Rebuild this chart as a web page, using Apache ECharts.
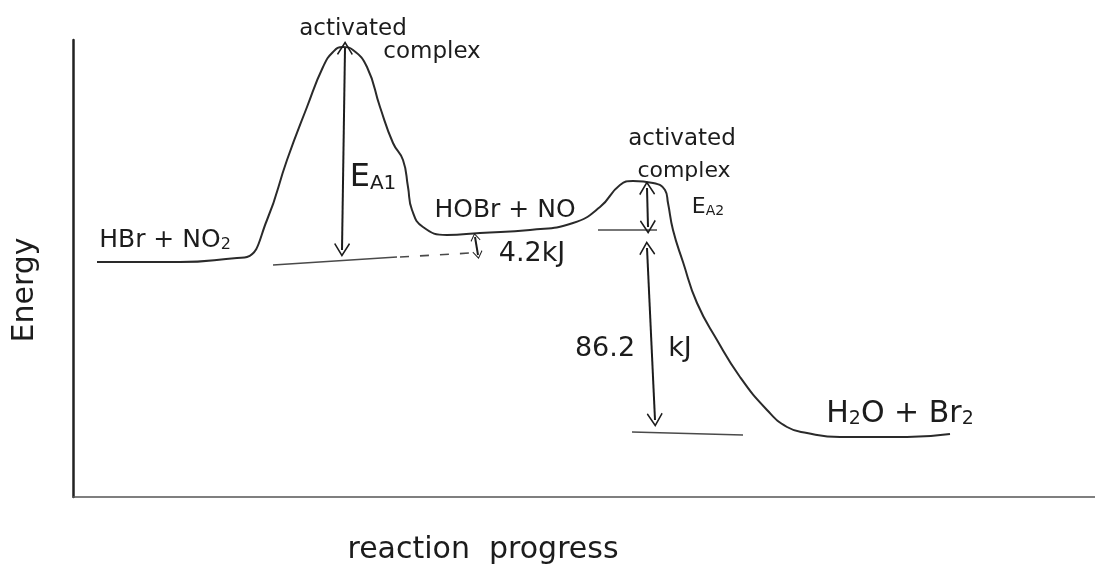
<!DOCTYPE html>
<html>
<head>
<meta charset="utf-8">
<script src="https://cdn.jsdelivr.net/npm/echarts@6/dist/echarts.min.js"></script>
<style>
  html, body { margin: 0; padding: 0; background: #fff; }
  #chart { width: 1095px; height: 575px; }
</style>
</head>
<body>
<div id="chart"></div>
<script>
'use strict';
// energy profile, arbitrary units
var progress = [24, 107, 164, 174, 194, 214, 234, 250, 260, 270, 280, 294, 307, 320, 330, 335, 339, 350, 374, 407,
  457, 500, 527, 547, 560, 580, 592, 595, 600, 610, 624, 644, 667, 694, 714, 734, 767, 834, 877];
var energy = [235, 235, 239, 240, 277, 337, 390, 430, 445, 450, 447, 430, 390, 354, 337, 310, 287, 270, 262, 264,
  267, 274, 290, 312, 316, 314, 307, 294, 267, 235, 194, 157, 120, 87, 70, 64, 60, 60, 63];

// reference levels [x, y]
var reactantLevel = [[200, 232], [324, 240]];
var reactantDash = [[327, 240], [397, 244]];
var intermediateLevel = [[525, 267], [584, 267]];
var productLevel = [[559, 65], [670, 62]];

// arrows: from [x, y] to [x, y]
var arrowEa1 = [[272, 449], [269, 247]];
var arrow42 = [[402, 260], [405, 242]];
var arrowEa2 = [[574, 309], [575, 270]];
var arrow862 = [[574, 249], [582, 77]];

var ink = '#1c1c1c';
var pencil = '#4a4a4a';
var hand = '"DejaVu Sans", sans-serif';
var arrowHead = 'path://M0,0L10,13L8.6,14.2L0,3L-8.6,14.2L-10,13Z';

var chart = echarts.init(document.getElementById('chart'));

function levelSeries(pts, dashed) {
  return {
    type: 'line',
    data: pts,
    showSymbol: false,
    silent: true,
    lineStyle: { color: pencil, width: 1.6, type: dashed ? [9, 11] : 'solid' },
    z: 2
  };
}

function arrowItem(a) {
  return [{ coord: a[0] }, { coord: a[1] }];
}

function label(text, x, y, size, extra) {
  var el = {
    type: 'text',
    x: x,
    y: y,
    style: {
      text: text,
      font: size + 'px ' + hand,
      fill: ink,
      align: 'center',
      verticalAlign: 'middle',
      rich: {
        s: { fontSize: Math.round(size * 0.62), fontFamily: hand, fill: ink, verticalAlign: 'bottom', lineHeight: size * 0.55 },
        n: { fontSize: size, fontFamily: hand, fill: ink, verticalAlign: 'bottom', lineHeight: size }
      }
    }
  };
  if (extra) {
    for (var k in extra) el[k] = extra[k];
  }
  return el;
}

var curveData = progress.map(function (p, i) { return [p, energy[i]]; });

chart.setOption({
  animation: false,
  backgroundColor: '#fff',
  grid: { left: 73, right: 0, top: 40, bottom: 78 },
  xAxis: {
    type: 'value', min: 0, max: 1022,
    axisLine: { show: true, lineStyle: { color: '#555', width: 1.5 } },
    axisTick: { show: false }, axisLabel: { show: false }, splitLine: { show: false }
  },
  yAxis: {
    type: 'value', min: 0, max: 457,
    axisLine: { show: true, lineStyle: { color: '#222', width: 2.5 } },
    axisTick: { show: false }, axisLabel: { show: false }, splitLine: { show: false }
  },
  series: [
    {
      type: 'line',
      data: curveData,
      smooth: 0.5,
      showSymbol: false,
      silent: true,
      lineStyle: { color: '#2a2a2a', width: 2 },
      z: 3,
      markLine: {
        silent: true,
        symbol: [arrowHead, arrowHead],
        symbolSize: [16, 14],
        label: { show: false },
        lineStyle: { color: ink, width: 2, type: 'solid' },
        data: [arrowItem(arrowEa1), arrowItem(arrowEa2), arrowItem(arrow862),
          [{ coord: arrow42[0], symbolSize: [10, 8] }, { coord: arrow42[1], symbolSize: [10, 8] }]]
      }
    },
    levelSeries(reactantLevel, false),
    levelSeries(reactantDash, true),
    levelSeries(intermediateLevel, false),
    levelSeries(productLevel, false)
  ],
  graphic: [
    label('activated', 353, 29, 23),
    label('complex', 432, 52, 23),
    label('activated', 682, 139, 23),
    label('complex', 684, 171, 22),
    label('{n|E}{s|A1}', 373, 178, 32),
    label('{n|E}{s|A2}', 708, 207, 22),
    label('{n|HBr + NO}{s|2}', 165, 240, 25),
    label('HOBr + NO', 505, 210, 25),
    label('4.2kJ', 532, 254, 27),
    label('86.2', 605, 349, 27),
    label('kJ', 680, 349, 27),
    label('{n|H}{s|2}{n|O + Br}{s|2}', 900, 414, 30),
    label('Energy', 25, 290, 30, { rotation: Math.PI / 2 }),
    label('reaction  progress', 483, 550, 30)
  ]
});
</script>
</body>
</html>
